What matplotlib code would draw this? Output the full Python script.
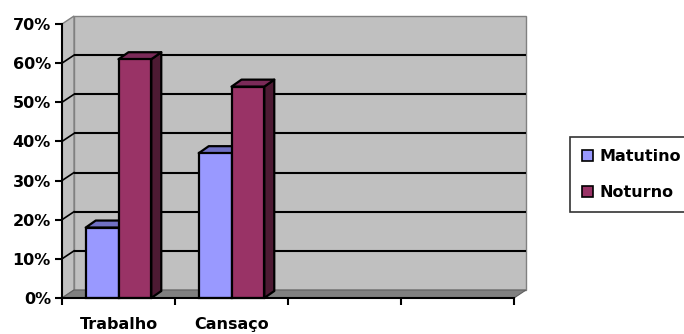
import matplotlib
matplotlib.use("Agg")
import matplotlib.pyplot as plt
from matplotlib.patches import Polygon, Rectangle
from matplotlib.ticker import FixedLocator, PercentFormatter

categories = ["Trabalho", "Cansaço", "", ""]
matutino = [0.18, 0.37]
noturno = [0.61, 0.54]
series_names = ["Matutino", "Noturno"]
yticks = [0.0, 0.1, 0.2, 0.3, 0.4, 0.5, 0.6, 0.7]

front_colors = ["#9999FF", "#993366"]
top_colors = ["#7070C4", "#7A2A58"]
side_colors = ["#5C5C99", "#4D1A33"]

plt.rcParams['font.family'] = ['DejaVu Sans']
plt.rcParams['font.weight'] = 'bold'

fig = plt.figure(figsize=(6.84, 3.34), dpi=100)
W, H = 684, 334
ax_l, ax_r, ax_t, ax_b = 62, 514, 24, 298
ax = fig.add_axes([ax_l / W, 1 - ax_b / H, (ax_r - ax_l) / W, (ax_b - ax_t) / H])
ncat = len(categories)
ymax = yticks[-1]
ax.set_xlim(0, ncat)
ax.set_ylim(0, ymax)
ax.set_facecolor("none")

# pixel -> data conversion for the 3d depth offsets
px_x = (ax_r - ax_l) / ncat
px_y = (ax_b - ax_t) / ymax
wdx, wdy = 12 / px_x, 8 / px_y      # wall depth
bdx, bdy = 10 / px_x, 7 / px_y      # bar depth

wall = "#C0C0C0"
# back wall, side wall and floor
ax.add_patch(Rectangle((wdx, wdy), ncat, ymax, facecolor=wall, edgecolor="#808080",
                       lw=1, zorder=0, clip_on=False))
ax.add_patch(Polygon([(0, 0), (0, ymax), (wdx, ymax + wdy), (wdx, wdy)], closed=True,
                     facecolor=wall, edgecolor="#808080", lw=1, zorder=0, clip_on=False))
ax.add_patch(Polygon([(0, 0), (wdx, wdy), (ncat + wdx, wdy), (ncat, 0)], closed=True,
                     facecolor="#808080", edgecolor="#606060", lw=0.8, zorder=0.2, clip_on=False))

# gridlines on the walls
for t in yticks[1:-1]:
    ax.plot([wdx, ncat + wdx], [t + wdy, t + wdy], color="black", lw=1.5, zorder=0.5,
            clip_on=False, solid_capstyle="butt")
    ax.plot([0, wdx], [t, t + wdy], color="black", lw=1.2, zorder=0.5, clip_on=False)

width = 0.29
centers = [i + 0.5 for i in range(len(matutino))]
for k, vals in enumerate([matutino, noturno]):
    xs = [c - width + k * width for c in centers]
    for x0, v in zip(xs, vals):
        x1 = x0 + width
        ax.add_patch(Polygon([(x1, 0), (x1, v), (x1 + bdx, v + bdy), (x1 + bdx, bdy)],
                             closed=True, facecolor=side_colors[k], edgecolor="black",
                             lw=1.6, zorder=2 + k, clip_on=False, joinstyle="round"))
        ax.add_patch(Polygon([(x0, v), (x1, v), (x1 + bdx, v + bdy), (x0 + bdx, v + bdy)],
                             closed=True, facecolor=top_colors[k], edgecolor="black",
                             lw=1.6, zorder=2 + k, clip_on=False, joinstyle="round"))
    ax.bar(xs, vals, width=width, align="edge", color=front_colors[k], edgecolor="black",
           lw=1.6, zorder=2.1 + k, label=series_names[k], clip_on=False)

for s in ["top", "right"]:
    ax.spines[s].set_visible(False)
for s in ["left", "bottom"]:
    ax.spines[s].set_linewidth(1.5)
    ax.spines[s].set_zorder(5)

ax.set_yticks(yticks)
ax.yaxis.set_major_formatter(PercentFormatter(1.0, decimals=0))
ax.tick_params(axis="y", length=5, width=1.5, pad=3, labelsize=11.5)
ax.set_xticks(range(ncat + 1))
ax.set_xticklabels([])
ax.xaxis.set_minor_locator(FixedLocator([i + 0.5 for i in range(ncat)]))
ax.set_xticklabels(categories, minor=True)
ax.tick_params(axis="x", which="major", length=5, width=1.5)
ax.tick_params(axis="x", which="minor", length=0, pad=14, labelsize=11.5)

leg = fig.legend(loc="upper left", bbox_to_anchor=(570 / W, 1 - 137 / H), frameon=True,
                 fancybox=False, edgecolor="black", fontsize=11.5, handlelength=0.7,
                 handleheight=0.7, handletextpad=0.4, labelspacing=1.3,
                 borderpad=0.75, borderaxespad=0)
leg.get_frame().set_linewidth(1.2)
for h in leg.legend_handles:
    h.set_linewidth(1.2)

fig.savefig("out.png", dpi=100)
